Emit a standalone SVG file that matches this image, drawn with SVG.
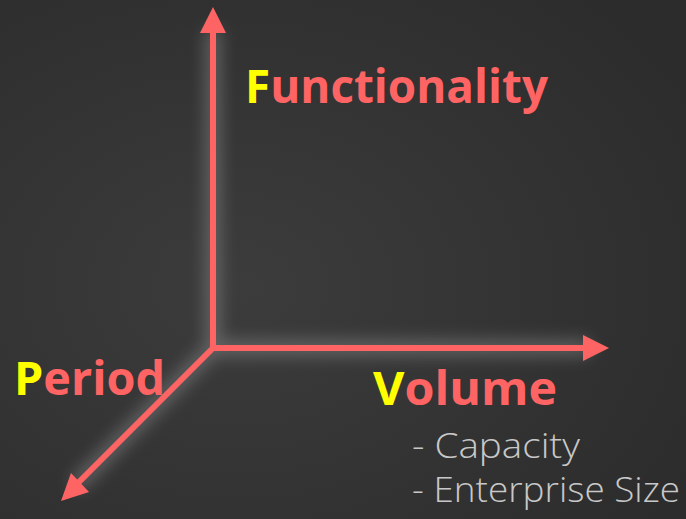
<svg xmlns="http://www.w3.org/2000/svg" width="686" height="519" viewBox="0 0 686 519">
<defs>
<radialGradient id="bg" cx="0.35" cy="0.55" r="0.75">
<stop offset="0" stop-color="#3c3c3c"/>
<stop offset="1" stop-color="#2c2c2c"/>
</radialGradient>
<filter id="glow" x="-50%" y="-50%" width="200%" height="200%">
<feGaussianBlur stdDeviation="8"/>
</filter>
<style>
.ax{stroke:#FF6464;stroke-width:6;fill:none}
.hd{fill:#FF6464}
.gl{stroke:#909090;stroke-width:16;fill:none;opacity:0.5}
.lbl{font-family:"Open Sans","Noto Sans",sans-serif;font-weight:700;font-size:46px;fill:#FF6464}
.init{fill:#FFFF00}
.sub{font-family:"Open Sans","Noto Sans",sans-serif;font-weight:300;font-size:34px;fill:#C8C8C8}
</style>
</defs>
<rect width="686" height="519" fill="url(#bg)"/>
<g id="glow-layer" filter="url(#glow)">
<path class="gl" d="M213 30 L213 348 L590 348 M213 348 L75 486"/>
</g>
<g id="connectors">
<line class="ax" x1="213" y1="348" x2="213" y2="30"/>
<polygon class="hd" points="213,7 200,33 226,33"/>
<line class="ax" x1="213" y1="348" x2="586" y2="348"/>
<polygon class="hd" points="609,348 583,335 583,361"/>
<line class="ax" x1="213" y1="348" x2="78" y2="483"/>
<polygon class="hd" points="61,501 71,473 89,492"/>
</g>
<g id="functionality">
<text class="lbl" x="245" y="103" textLength="303" lengthAdjust="spacingAndGlyphs"><tspan class="init">F</tspan>unctionality</text>
</g>
<g id="period">
<text class="lbl" x="14" y="395" textLength="151" lengthAdjust="spacingAndGlyphs"><tspan class="init">P</tspan>eriod</text>
</g>
<g id="volume">
<text class="lbl" x="373" y="405" textLength="184" lengthAdjust="spacingAndGlyphs"><tspan class="init">V</tspan>olume</text>
<text class="sub" x="412" y="458" textLength="168" lengthAdjust="spacingAndGlyphs">- Capacity</text>
<text class="sub" x="412" y="502" textLength="268" lengthAdjust="spacingAndGlyphs">- Enterprise Size</text>
</g>
</svg>
